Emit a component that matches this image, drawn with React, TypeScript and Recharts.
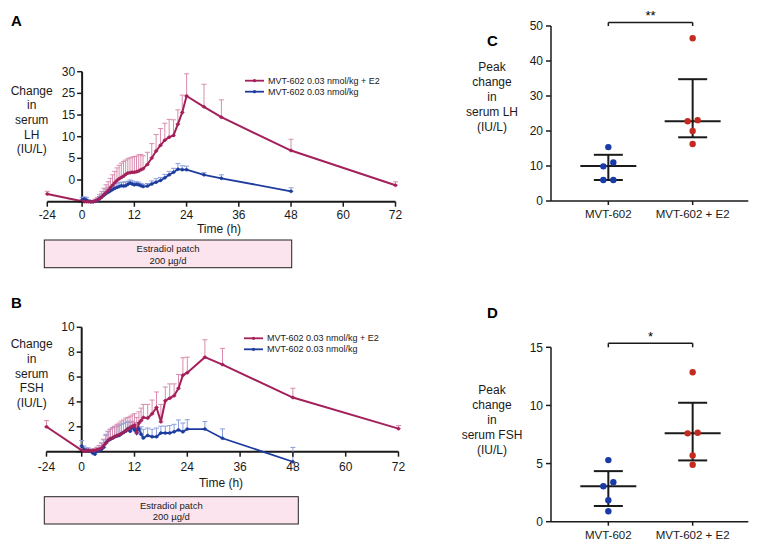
import React from 'react';
import { LineChart, Line, ScatterChart, Scatter, XAxis, YAxis, ErrorBar, ReferenceLine } from 'recharts';

const PAGE_W = 764;
const PAGE_H = 549;
const FONT = '"Liberation Sans", Arial, Helvetica, sans-serif';
const INK = '#1a1a1a';
const E2_LINE = '#a3205a';
const E2_ERR = '#d98cae';
const ALONE_LINE = '#1d3c9e';
const ALONE_ERR = '#8c9edb';
const DOT_BLUE = '#1a3aa8';
const DOT_RED = '#c42b20';

// sampling times (h) for the time courses
const hoursE2 = [-24, 0, 0.5, 1, 1.5, 2, 2.5, 3, 3.5, 4, 4.5, 5, 5.5, 6, 6.5, 7, 7.5, 8, 8.5, 9, 9.5, 10, 10.5, 11, 11.5, 12, 12.5, 13, 13.5, 14, 15, 16, 17, 18, 19, 20, 21, 22, 23, 24, 28, 32, 48, 72];
const hoursAlone = [0, 0.5, 1, 1.5, 2, 2.5, 3, 3.5, 4, 4.5, 5, 5.5, 6, 6.5, 7, 7.5, 8, 8.5, 9, 9.5, 10, 10.5, 11, 11.5, 12, 12.5, 13, 13.5, 14, 15, 16, 17, 18, 19, 20, 21, 22, 23, 24, 28, 32, 48];
const hourTicks = [-24, 0, 12, 24, 36, 48, 60, 72];

// panel A: change in serum LH
const lhE2Mean = [1.8, 0.1, 0, 0, 0, 0, 0, 0.2, 0.4, 0.7, 1.1, 1.6, 2.1, 2.6, 3.2, 3.8, 4.4, 4.9, 5.3, 5.6, 5.9, 6.3, 6.6, 6.7, 6.8, 6.8, 6.9, 7.1, 7.4, 7.6, 8.6, 10.1, 11.7, 13.0, 14.2, 14.9, 15.3, 17.9, 20.6, 24.4, 21.9, 19.5, 11.8, 3.8];
const lhE2Sem = [0.6, 0.3, 0.2, 0.2, 0.2, 0.2, 0.2, 0.4, 0.6, 0.9, 1.2, 1.5, 1.8, 2.0, 2.2, 2.4, 2.6, 2.9, 3.1, 3.3, 3.4, 3.3, 3.3, 3.4, 3.5, 3.6, 3.6, 3.7, 3.5, 3.0, 2.8, 3.3, 3.8, 3.9, 3.9, 4.1, 3.6, 3.3, 4.0, 5.1, 5.2, 4.0, 2.6, 0.8];
const lhMean = [0.4, 0.6, 0.4, 0.1, 0, 0, 0.1, 0.3, 0.7, 1.1, 1.5, 1.9, 2.2, 2.5, 2.8, 3.1, 3.3, 3.5, 3.7, 3.6, 3.7, 4.0, 4.3, 4.1, 3.9, 4.0, 3.9, 3.7, 3.5, 3.6, 4.1, 4.5, 4.9, 5.5, 6.2, 6.8, 7.5, 7.4, 7.4, 6.2, 5.4, 2.4];
const lhSem = [0.6, 0.5, 0.6, 0.3, 0.2, 0.2, 0.2, 0.3, 0.5, 0.7, 0.9, 1.0, 1.1, 1.1, 1.0, 1.0, 1.0, 0.9, 0.8, 0.9, 0.9, 0.7, 0.7, 0.7, 0.6, 0.6, 0.6, 0.5, 0.5, 0.6, 0.7, 0.8, 0.7, 0.8, 0.8, 0.9, 1.3, 0.9, 0.8, 0.5, 0.8, 0.8];
const lhTicks = [0, 5, 10, 15, 20, 25, 30];
const lhTickLabels = ['', '0', '5', '10', '15', '25', '30'];

// panel B: change in serum FSH
const fshE2Mean = [2.0, 0.1, 0.05, 0.1, 0.1, 0.05, 0.1, 0.1, 0.15, 0.2, 0.3, 0.5, 0.7, 0.9, 1.05, 1.1, 1.2, 1.3, 1.35, 1.45, 1.55, 1.7, 1.8, 1.95, 2.05, 2.15, 1.55, 2.3, 2.5, 2.75, 2.7, 3.05, 3.55, 2.4, 4.1, 4.3, 4.5, 5.1, 6.15, 6.35, 7.6, 7.0, 4.35, 1.85];
const fshE2Sem = [0.5, 0.15, 0.1, 0.1, 0.1, 0.1, 0.1, 0.15, 0.2, 0.3, 0.4, 0.5, 0.6, 0.7, 0.75, 0.8, 0.85, 0.9, 0.95, 1.0, 1.0, 1.0, 0.95, 0.9, 0.9, 0.9, 1.2, 0.9, 1.0, 1.05, 1.1, 1.1, 1.25, 1.4, 1.1, 1.15, 0.95, 1.1, 1.4, 1.25, 1.4, 1.3, 0.75, 0.25];
const fshMean = [0.45, 0.2, 0.1, 0.1, 0.05, -0.1, -0.2, 0.05, 0.1, 0.2, 0.35, 0.7, 0.9, 1.0, 1.1, 1.2, 1.25, 1.3, 1.45, 1.55, 1.65, 1.85, 1.65, 1.95, 1.75, 1.5, 1.85, 1.4, 1.1, 1.3, 1.2, 1.2, 1.5, 1.5, 1.5, 1.6, 1.75, 1.6, 1.82, 1.82, 1.08, -0.81];
const fshSem = [0.45, 0.25, 0.2, 0.2, 0.15, 0.2, 0.25, 0.3, 0.4, 0.5, 0.6, 0.7, 0.75, 0.8, 0.85, 0.8, 0.8, 0.8, 0.75, 0.7, 0.7, 0.6, 0.7, 0.5, 0.6, 0.7, 0.5, 0.6, 0.7, 0.6, 0.6, 0.7, 0.55, 0.55, 0.6, 0.6, 0.8, 0.7, 0.75, 0.6, 0.75, 1.15];
const fshTicks = [0, 2, 4, 6, 8, 10];
const fshTickLabels = ['', '2', '4', '6', '8', '10'];

// panels C, D: individual peak changes, with median and interquartile range
const groups = ['MVT-602', 'MVT-602 + E2'];
const peakLhAlone = [15.4, 11.0, 9.9, 6.0, 6.0];
const peakLhE2 = [46.5, 23.1, 22.8, 20.0, 16.3];
const peakLhMid = [10.0, 22.8];
const peakLhLow = [6.0, 18.2];
const peakLhHigh = [13.2, 34.8];
const peakFshAlone = [5.3, 3.4, 3.05, 1.85, 0.9];
const peakFshE2 = [12.85, 7.65, 7.6, 5.7, 4.9];
const peakFshMid = [3.05, 7.6];
const peakFshLow = [1.35, 5.27];
const peakFshHigh = [4.35, 10.23];

// horizontal spread of overlapping dots (in dot steps)
const lhAloneJitter = [0, 1, -1, -1, 1];
const lhE2Jitter = [0, 1, -1, 0, 0];
const fshAloneJitter = [0, 1, -1, 0, 0];
const fshE2Jitter = [0, 1, -1, 0, 0];
const JIT = 5;

// the pre-dose day is drawn compressed (24 h shown as 8 h)
const axisHour = (h: number) => (h < 0 ? h / 3 : h);
const hourLabel = (v: number) => String(Math.round(v < 0 ? v * 3 : v));
const HOUR_DOMAIN: [number, number] = [-8, 72];

type Box = { left: number; right: number; top: number; bottom: number };
// axes get a 1px box, so take it off the margins
const AX = 1;
const marginOf = (b: Box) => ({ left: b.left - AX, right: PAGE_W - b.right, top: b.top, bottom: PAGE_H - b.bottom - AX });

const boxA: Box = { left: 47.3, right: 395.5, top: 71.7, bottom: 201.7 };
const boxB: Box = { left: 46.5, right: 398.5, top: 327.3, bottom: 464.1 };
const boxC: Box = { left: 551, right: 748.3, top: 26, bottom: 201 };
const boxD: Box = { left: 551, right: 748.3, top: 347.3, bottom: 521.7 };

const layer: React.CSSProperties = { position: 'absolute', left: 0, top: 0 };

type TimeProps = {
  box: Box;
  yDomain: [number, number];
  yTicks: number[];
  yTickLabels: string[];
  e2Mean: number[];
  e2Sem: number[];
  aloneMean: number[];
  aloneSem: number[];
  labelGap: number;
};

function TimeCourse({ box, yDomain, yTicks, yTickLabels, e2Mean, e2Sem, aloneMean, aloneSem, labelGap }: TimeProps) {
  const plotW = box.right - box.left;
  const plotH = box.bottom - box.top;
  const zeroX = box.left + ((0 - HOUR_DOMAIN[0]) / (HOUR_DOMAIN[1] - HOUR_DOMAIN[0])) * plotW;
  const zeroY = box.bottom - ((0 - yDomain[0]) / (yDomain[1] - yDomain[0])) * plotH;

  const e2Data = hoursE2.map((h, i) => ({ x: axisHour(h), y: e2Mean[i], err: [0, e2Sem[i]] }));
  const aloneData = hoursAlone.map((h, i) => ({ x: axisHour(h), y: aloneMean[i], err: [0, aloneSem[i]] }));

  const timeTick = (p: any) => (
    <g>
      <line x1={p.x} x2={p.x} y1={zeroY} y2={zeroY + 5} stroke={INK} strokeWidth={1.5} />
      <text x={p.x} y={zeroY + labelGap} textAnchor="middle" dominantBaseline="central" fontSize={12} fontFamily={FONT} fill={INK}>
        {hourLabel(p.payload.value)}
      </text>
    </g>
  );
  const valueTick = (p: any) => (
    <g>
      <line x1={zeroX - 5} x2={zeroX} y1={p.y} y2={p.y} stroke={INK} strokeWidth={1.5} />
      <text x={zeroX - 7} y={p.y} textAnchor="end" dominantBaseline="central" fontSize={12} fontFamily={FONT} fill={INK}>
        {yTickLabels[yTicks.indexOf(p.payload.value)]}
      </text>
    </g>
  );

  return (
    <div style={layer}>
      <LineChart width={PAGE_W} height={PAGE_H} margin={marginOf(box)}>
        <XAxis type="number" dataKey="x" domain={HOUR_DOMAIN} ticks={hourTicks.map(axisHour)} interval={0} height={AX} axisLine={false} tickLine={false} tick={timeTick} />
        <YAxis type="number" domain={yDomain} ticks={yTicks} interval={0} width={AX} axisLine={false} tickLine={false} tick={valueTick} />
        <ReferenceLine segment={[{ x: HOUR_DOMAIN[0], y: 0 }, { x: HOUR_DOMAIN[1], y: 0 }]} stroke={INK} strokeWidth={2} ifOverflow="visible" />
        <ReferenceLine segment={[{ x: 0, y: 0 }, { x: 0, y: yDomain[1] }]} stroke={INK} strokeWidth={2} ifOverflow="visible" />
        <Line data={aloneData} dataKey="y" type="linear" stroke={ALONE_LINE} strokeWidth={1.8} dot={{ r: 1.5, fill: ALONE_LINE, stroke: ALONE_LINE, strokeWidth: 0.5 }} isAnimationActive={false}>
          <ErrorBar dataKey="err" direction="y" width={2.5} stroke={ALONE_ERR} strokeWidth={1} />
        </Line>
        <Line data={e2Data} dataKey="y" type="linear" stroke={E2_LINE} strokeWidth={2} dot={{ r: 1.5, fill: E2_LINE, stroke: E2_LINE, strokeWidth: 0.5 }} isAnimationActive={false}>
          <ErrorBar dataKey="err" direction="y" width={2.5} stroke={E2_ERR} strokeWidth={1} />
        </Line>
      </LineChart>
    </div>
  );
}

type PeakProps = {
  box: Box;
  yMax: number;
  yTicks: number[];
  alone: number[];
  e2: number[];
  aloneJitter: number[];
  e2Jitter: number[];
  mid: number[];
  low: number[];
  high: number[];
  bracketY: number;
  bracketEnd: number;
};

const dotShape = (color: string) => (p: any) => {
  const j = (p.payload && p.payload.j) || 0;
  return <circle cx={p.cx + j * JIT} cy={p.cy} r={3.2} fill={color} />;
};
const medianShape = (p: any) => <line x1={p.cx - 28} x2={p.cx + 28} y1={p.cy} y2={p.cy} stroke={INK} strokeWidth={2} />;

function PeakPanel({ box, yMax, yTicks, alone, e2, aloneJitter, e2Jitter, mid, low, high, bracketY, bracketEnd }: PeakProps) {
  const summary = mid.map((m, i) => ({ x: i + 1, y: m, err: [m - low[i], high[i] - m] }));
  const aloneData = alone.map((v, i) => ({ x: 1, y: v, j: aloneJitter[i] }));
  const e2Data = e2.map((v, i) => ({ x: 2, y: v, j: e2Jitter[i] }));
  const axisStyle = { stroke: INK, strokeWidth: 1.5 };
  return (
    <div style={layer}>
      <ScatterChart width={PAGE_W} height={PAGE_H} margin={marginOf(box)}>
        <XAxis type="number" dataKey="x" domain={[0.32, 2.66]} ticks={[1, 2]} interval={0} height={AX}
          tickFormatter={(v: number) => groups[v - 1]} tickSize={4} tickMargin={5}
          axisLine={axisStyle} tickLine={axisStyle} tick={{ fill: INK, fontSize: 11.5, fontFamily: FONT }} />
        <YAxis type="number" dataKey="y" domain={[0, yMax]} ticks={yTicks} interval={0} width={AX}
          tickSize={5} tickMargin={3} axisLine={axisStyle} tickLine={axisStyle} tick={{ fill: INK, fontSize: 12, fontFamily: FONT }} />
        <Scatter data={summary} shape={medianShape} isAnimationActive={false}>
          <ErrorBar dataKey="err" direction="y" width={14.5} stroke={INK} strokeWidth={2} />
        </Scatter>
        <Scatter data={aloneData} shape={dotShape(DOT_BLUE)} isAnimationActive={false} />
        <Scatter data={e2Data} shape={dotShape(DOT_RED)} isAnimationActive={false} />
        <ReferenceLine segment={[{ x: 1, y: bracketY }, { x: 2, y: bracketY }]} stroke={INK} strokeWidth={1.5} ifOverflow="visible" />
        <ReferenceLine segment={[{ x: 1, y: bracketY }, { x: 1, y: bracketEnd }]} stroke={INK} strokeWidth={1.5} ifOverflow="visible" />
        <ReferenceLine segment={[{ x: 2, y: bracketY }, { x: 2, y: bracketEnd }]} stroke={INK} strokeWidth={1.5} ifOverflow="visible" />
      </ScatterChart>
    </div>
  );
}

function Stack({ x, y, step, lines, size = 12 }: { x: number; y: number; step: number; lines: string[]; size?: number }) {
  return (
    <g>
      {lines.map((t, i) => (
        <text key={i} x={x} y={y + i * step} textAnchor="middle" dominantBaseline="central" fontSize={size} fill={INK}>
          {t}
        </text>
      ))}
    </g>
  );
}

function LegendRows({ x, y }: { x: number; y: number }) {
  const rows = [
    { name: 'MVT-602 0.03 nmol/kg + E2', color: E2_LINE },
    { name: 'MVT-602 0.03 nmol/kg', color: ALONE_LINE },
  ];
  return (
    <g>
      {rows.map((r, i) => (
        <g key={r.name}>
          <line x1={x} x2={x + 19} y1={y + i * 11} y2={y + i * 11} stroke={r.color} strokeWidth={1.8} />
          <circle cx={x + 9.5} cy={y + i * 11} r={1.6} fill={r.color} />
          <text x={x + 23} y={y + i * 11} dominantBaseline="central" fontSize={9} fill={INK}>{r.name}</text>
        </g>
      ))}
    </g>
  );
}

function Patch({ x, y, w, h }: { x: number; y: number; w: number; h: number }) {
  return (
    <g>
      <rect x={x} y={y} width={w} height={h} fill="#fce4ee" stroke="#222" strokeWidth={1} />
      <text x={x + w / 2} y={y + 8.5} textAnchor="middle" dominantBaseline="central" fontSize={9.5} fill={INK}>Estradiol patch</text>
      <text x={x + w / 2} y={y + 20} textAnchor="middle" dominantBaseline="central" fontSize={9.5} fill={INK}>200 µg/d</text>
    </g>
  );
}

function Annotations() {
  return (
    <svg width={PAGE_W} height={PAGE_H} style={layer} fontFamily={FONT}>
      <text x={11} y={26} fontSize={15} fontWeight="bold" fill="#000">A</text>
      <text x={11} y={307.5} fontSize={15} fontWeight="bold" fill="#000">B</text>
      <text x={487} y={45.5} fontSize={15} fontWeight="bold" fill="#000">C</text>
      <text x={487} y={317.5} fontSize={15} fontWeight="bold" fill="#000">D</text>

      <Stack x={31.7} y={90.7} step={14.6} lines={['Change', 'in', 'serum', 'LH', '(IU/L)']} />
      <Stack x={31.7} y={344.3} step={14.6} lines={['Change', 'in', 'serum', 'FSH', '(IU/L)']} />
      <Stack x={492} y={66.7} step={15} lines={['Peak', 'change', 'in', 'serum LH', '(IU/L)']} />
      <Stack x={492} y={390} step={15} lines={['Peak', 'change', 'in', 'serum FSH', '(IU/L)']} />

      <text x={219} y={229} textAnchor="middle" dominantBaseline="central" fontSize={12} fill={INK}>Time (h)</text>
      <text x={221} y={482.7} textAnchor="middle" dominantBaseline="central" fontSize={12} fill={INK}>Time (h)</text>

      <LegendRows x={245} y={80.7} />
      <LegendRows x={244} y={338.3} />

      <Patch x={44.3} y={240} w={247.4} h={27.7} />
      <Patch x={44.3} y={496.7} w={254} h={27.3} />

      <text x={650.5} y={20} textAnchor="middle" fontSize={13} fill="#000">**</text>
      <text x={650.5} y={340.8} textAnchor="middle" fontSize={13} fill="#000">*</text>
    </svg>
  );
}

export default function App() {
  return (
    <div style={{ position: 'absolute', left: 0, top: 0, width: PAGE_W, height: PAGE_H, background: '#fff', fontFamily: FONT }}>
      <TimeCourse box={boxA} yDomain={[0, 30]} yTicks={lhTicks} yTickLabels={lhTickLabels}
        e2Mean={lhE2Mean} e2Sem={lhE2Sem} aloneMean={lhMean} aloneSem={lhSem} labelGap={13.5} />
      <TimeCourse box={boxB} yDomain={[-1, 10]} yTicks={fshTicks} yTickLabels={fshTickLabels}
        e2Mean={fshE2Mean} e2Sem={fshE2Sem} aloneMean={fshMean} aloneSem={fshSem} labelGap={15} />
      <PeakPanel box={boxC} yMax={50} yTicks={[0, 10, 20, 30, 40, 50]} alone={peakLhAlone} e2={peakLhE2}
        aloneJitter={lhAloneJitter} e2Jitter={lhE2Jitter} mid={peakLhMid} low={peakLhLow} high={peakLhHigh}
        bracketY={51} bracketEnd={50} />
      <PeakPanel box={boxD} yMax={15} yTicks={[0, 5, 10, 15]} alone={peakFshAlone} e2={peakFshE2}
        aloneJitter={fshAloneJitter} e2Jitter={fshE2Jitter} mid={peakFshMid} low={peakFshLow} high={peakFshHigh}
        bracketY={15.35} bracketEnd={15} />
      <Annotations />
    </div>
  );
}
